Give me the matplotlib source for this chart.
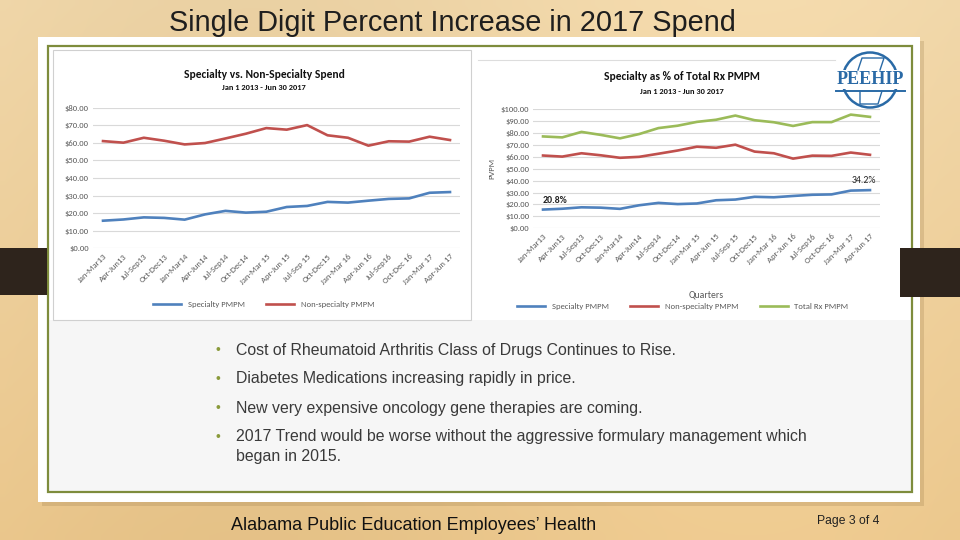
import matplotlib
matplotlib.use('Agg')
import matplotlib.pyplot as plt
from matplotlib.patches import Rectangle, Ellipse
import numpy as np

# ---------------- data ----------------
quarters = ["Jan-Mar13", "Apr-Jun13", "Jul-Sep13", "Oct-Dec13", "Jan-Mar14", "Apr-Jun14",
            "Jul-Sep14", "Oct-Dec14", "Jan-Mar 15", "Apr-Jun 15", "Jul-Sep 15", "Oct-Dec15",
            "Jan-Mar 16", "Apr-Jun 16", "Jul-Sep16", "Oct-Dec 16", "Jan-Mar 17", "Apr-Jun 17"]
specialty = [15.7, 16.4, 17.6, 17.3, 16.3, 19.3, 21.3, 20.3, 20.8, 23.5, 24.1, 26.4,
             26.0, 27.1, 28.1, 28.4, 31.6, 32.0]
non_specialty = [61.0, 60.1, 62.9, 61.2, 59.1, 59.9, 62.5, 65.2, 68.4, 67.5, 70.1, 64.3,
                 62.9, 58.4, 60.9, 60.7, 63.5, 61.6]
total_rx = [77.0, 76.2, 80.8, 78.3, 75.4, 79.0, 84.0, 86.0, 89.2, 91.0, 94.5, 90.6,
            88.9, 85.8, 89.0, 89.0, 95.3, 93.4]
left_yticks = [0, 10, 20, 30, 40, 50, 60, 70, 80]
right_yticks = [0, 10, 20, 30, 40, 50, 60, 70, 80, 90, 100]
start_pct_label = "20.8%"
end_pct_label = "34.2%"
bullets = [["Cost of Rheumatoid Arthritis Class of Drugs Continues to Rise."],
           ["Diabetes Medications increasing rapidly in price."],
           ["New very expensive oncology gene therapies are coming."],
           ["2017 Trend would be worse without the aggressive formulary management which",
            "began in 2015."]]

# ---------------- styling ----------------
BLUE, RED, GREEN = "#4F81BD", "#C0504D", "#9BBB59"
GRID = "#D9D9D9"
TICK = "#595959"
W, H = 960, 540
SANS = ["Liberation Sans", "DejaVu Sans"]
CHART = ["Carlito", "Lato", "DejaVu Sans"]
plt.rcParams['font.family'] = SANS

fig = plt.figure(figsize=(9.6, 5.4), dpi=100)

# background axes in pixel coordinates
bg = fig.add_axes([0, 0, 1, 1])
yy = np.linspace(0, 1, 60)[:, None]
xx = np.linspace(0, 1, 100)[None, :]
top = np.array([0.94, 0.84, 0.66])
bot = np.array([0.92, 0.78, 0.55])
grad = top[None, None, :] * (1 - yy[..., None]) + bot[None, None, :] * yy[..., None]
grad = grad - 0.02 * np.sin(xx[..., None] * 6.0) * np.ones((1, 1, 3))
grad = np.clip(grad, 0, 1)
bg.imshow(grad, extent=(0, W, H, 0), aspect='auto', zorder=0, interpolation='bilinear')
bg.set_xlim(0, W)
bg.set_ylim(H, 0)
bg.axis('off')

# white panel with shadow
bg.add_patch(Rectangle((42, 41), 882, 465, fc="#9C7C4C", alpha=0.25, zorder=1, lw=0))
bg.add_patch(Rectangle((38, 37), 882, 465, fc="white", zorder=2, lw=0))
bg.add_patch(Rectangle((48, 320), 864, 172, fc="#F6F6F6", zorder=2.5, lw=0))
bg.add_patch(Rectangle((48, 46), 864, 446, fill=False, ec="#7E8C3C", lw=1.6, zorder=3))
# chart frames
bg.add_patch(Rectangle((53, 50), 418, 270, fc="white", ec="#D0D0D0", lw=0.8, zorder=3))
bg.add_patch(Rectangle((478, 58), 418, 262, fc="white", ec="none", lw=0, zorder=3))
bg.plot([478, 835], [60, 60], color="#DDDDDD", lw=0.8, zorder=3.5)
# dark bands
bg.add_patch(Rectangle((0, 248), 47, 47, fc="#2E241C", zorder=4, lw=0))
bg.add_patch(Rectangle((900, 248), 60, 49, fc="#2E241C", zorder=4, lw=0))

# slide title
bg.text(452, 23, "Single Digit Percent Increase in 2017 Spend", ha='center', va='center',
        fontsize=20.8, color="#1E1E1E", zorder=5)

# bullets
bullet_y = [350, 379, 408, 437]
for y, lines in zip(bullet_y, bullets):
    bg.text(218, y, "\u2022", ha='center', va='center', fontsize=10, color="#8A9A3B", zorder=5)
    for k, t in enumerate(lines):
        bg.text(236, y + 19 * k, t, ha='left', va='center', fontsize=11.4, color="#3A3A3A",
                zorder=5)

# footer
bg.text(231, 525, "Alabama Public Education Employees\u2019 Health", ha='left', va='center',
        fontsize=13, color="#111111", zorder=5)
bg.text(848, 521, "Page 3 of 4", ha='center', va='center', fontsize=8.7, color="#222222", zorder=5)

# logo
bg.add_patch(Ellipse((870, 80), 55, 55, fill=False, ec="#2A6AA6", lw=1.8, zorder=5))
bg.add_patch(Rectangle((834, 70), 73, 19, fc="white", ec="none", zorder=5.5))
bg.plot([836, 905], [91, 91], color="#2A6AA6", lw=1.4, zorder=6)
bg.text(870, 80, "PEEHIP", ha='center', va='center', fontsize=13, fontweight='bold',
        family=["Liberation Serif", "DejaVu Serif"], color="#2A6AA6", zorder=6)
bg.plot([858, 862, 884, 880], [70, 58, 58, 70], color="#2A6AA6", lw=1.0, zorder=5.6)
bg.plot([860, 860, 878, 882], [91, 104, 104, 91], color="#2A6AA6", lw=1.0, zorder=6)


def px_axes(x0, x1, ytop, ybot):
    return fig.add_axes([x0 / W, 1 - ybot / H, (x1 - x0) / W, (ybot - ytop) / H], zorder=10)


def style_chart(ax, yticks):
    ax.set_facecolor('none')
    for s in ax.spines.values():
        s.set_visible(False)
    ax.set_yticks(yticks)
    ax.set_yticklabels(["${:.2f}".format(v) for v in yticks], family=CHART, fontsize=6.2, color=TICK)
    ax.set_ylim(yticks[0], yticks[-1])
    ax.yaxis.grid(True, color=GRID, lw=0.8)
    ax.set_axisbelow(True)
    ax.set_xlim(-0.5, len(quarters) - 0.5)
    ax.set_xticks(range(len(quarters)))
    ax.set_xticklabels(quarters, rotation=45, ha='right', rotation_mode='anchor',
                       family=CHART, fontsize=6.2, color=TICK)
    ax.tick_params(length=0, pad=3)


x = np.arange(len(quarters))

# left chart
axL = px_axes(92.8, 460.2, 107.7, 248.3)
style_chart(axL, left_yticks)
axL.plot(x, specialty, color=BLUE, lw=1.9, label="Specialty PMPM")
axL.plot(x, non_specialty, color=RED, lw=1.9, label="Non-specialty PMPM")
bg.text(264, 75, "Specialty vs. Non-Specialty Spend", ha='center', va='center', fontsize=8.3,
        fontweight='bold', family=CHART, color="#111111", zorder=6)
bg.text(264, 88, "Jan 1 2013 - Jun 30 2017", ha='center', va='center', fontsize=6,
        fontweight='bold', family=CHART, color="#111111", zorder=6)
axL.legend(loc='center', bbox_to_anchor=(264 / W, 1 - 304 / H), bbox_transform=fig.transFigure,
           ncol=2, frameon=False, prop={'family': CHART, 'size': 6.2}, handlelength=3.2,
           columnspacing=2.5, labelcolor=TICK)

# right chart
axR = px_axes(533.4, 879.6, 109.0, 228.3)
style_chart(axR, right_yticks)
axR.plot(x, specialty, color=BLUE, lw=1.9, label="Specialty PMPM")
axR.plot(x, non_specialty, color=RED, lw=1.9, label="Non-specialty PMPM")
axR.plot(x, total_rx, color=GREEN, lw=1.9, label="Total Rx PMPM")
axR.text(x[0], specialty[0] + 4, start_pct_label, ha='left', va='bottom', fontsize=7,
         fontweight='bold', family=CHART, color="#222222")
axR.text(x[-1] + 0.3, specialty[-1] + 4, end_pct_label, ha='right', va='bottom', fontsize=7,
         family=CHART, color="#222222")
axR.set_ylabel("PVPM", family=CHART, fontsize=6.2, color=TICK, labelpad=4)
axR.set_xlabel("Quarters", family=CHART, fontsize=7, color=TICK, labelpad=18)
bg.text(682, 77, "Specialty as % of Total Rx PMPM", ha='center', va='center', fontsize=8.3,
        fontweight='bold', family=CHART, color="#111111", zorder=6)
bg.text(682, 91, "Jan 1 2013 - Jun 30 2017", ha='center', va='center', fontsize=6,
        fontweight='bold', family=CHART, color="#111111", zorder=6)
axR.legend(loc='center', bbox_to_anchor=(683 / W, 1 - 306 / H), bbox_transform=fig.transFigure,
           ncol=3, frameon=False, prop={'family': CHART, 'size': 6.2}, handlelength=3.2,
           columnspacing=2.5, labelcolor=TICK)

fig.savefig("out.png", dpi=100)
